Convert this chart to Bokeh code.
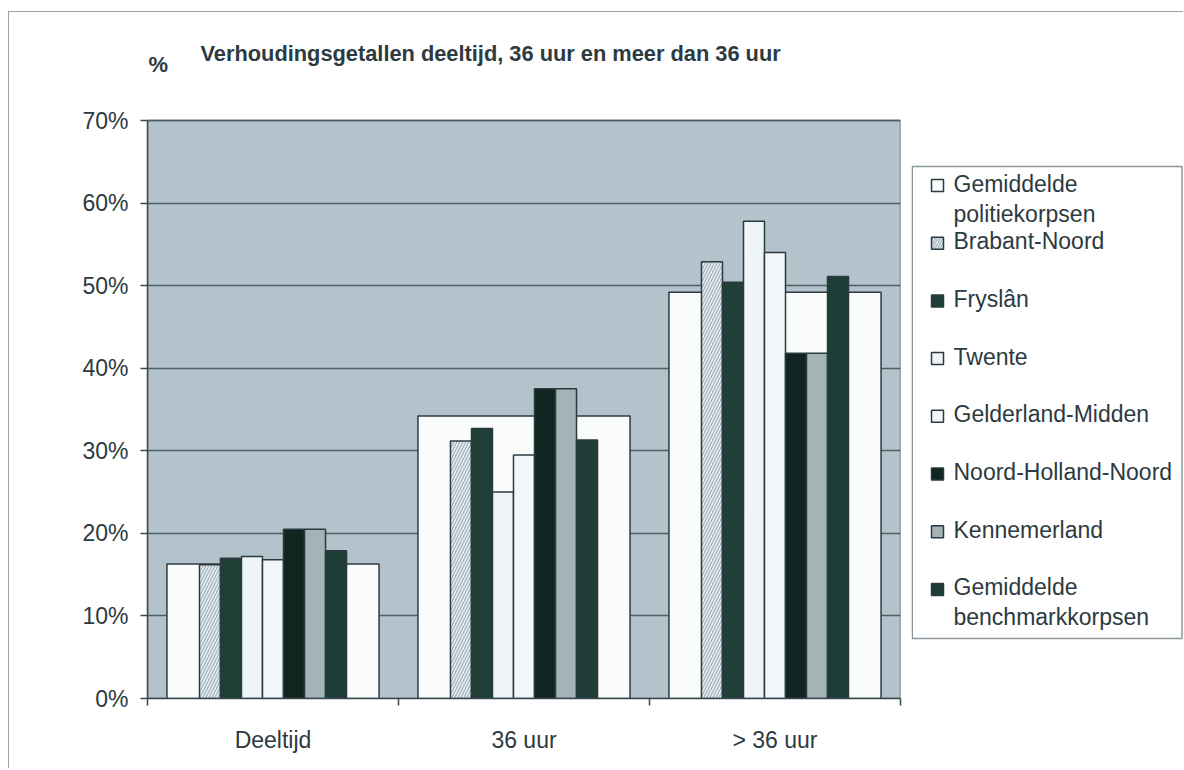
from bokeh.plotting import figure
from bokeh.models import Range1d, FixedTicker, PrintfTickFormatter, Label, ColumnDataSource
from bokeh.layouts import row
from bokeh.embed import file_html
from bokeh.resources import INLINE
from bokeh.core.properties import value

# ---------------- data ----------------
categories = ["Deeltijd", "36 uur", "> 36 uur"]
series_names = ["Gemiddelde politiekorpsen", "Brabant-Noord", "Fryslân", "Twente",
                "Gelderland-Midden", "Noord-Holland-Noord", "Kennemerland",
                "Gemiddelde benchmarkkorpsen"]
gem_politiekorpsen = [16.3, 34.2, 49.2]
brabant_noord = [16.2, 31.2, 52.9]
fryslan = [17.0, 32.7, 50.4]
twente = [17.2, 25.0, 57.8]
gelderland_midden = [16.8, 29.5, 54.0]
noord_holland_noord = [20.5, 37.5, 41.8]
kennemerland = [20.5, 37.5, 41.8]
gem_benchmarkkorpsen = [17.9, 31.3, 51.1]
y_ticks = [0, 10, 20, 30, 40, 50, 60, 70]
y_max = 70
legend_labels = ["Gemiddelde\npolitiekorpsen", "Brabant-Noord", "Fryslân", "Twente",
                 "Gelderland-Midden", "Noord-Holland-Noord", "Kennemerland",
                 "Gemiddelde\nbenchmarkkorpsen"]
title_text = "Verhoudingsgetallen deeltijd, 36 uur en meer dan 36 uur"
unit_text = "%"

# ---------------- styles / layout constants ----------------
narrow_series = [brabant_noord, fryslan, twente, gelderland_midden,
                 noord_holland_noord, kennemerland, gem_benchmarkkorpsen]
fills = ["#fafcfc", "#dfe8ec", "#1f3f37", "#eef4f7", "#f1f6f8", "#0f251f", "#a4b3b6", "#1e3d36"]
hatch = ["", "/", "", "", "", "", "", ""]
edge = "#2b3a40"
hatch_col = "#98aab2"
FONT = "Liberation Sans"
TXT = "#2d3a3f"
FS = "23px"

H = 756
W_MAIN = 902
W_LEG = 272
WIDE = 0.845
NW = 0.0837
MB_BOT = 70
FRAME_H = H - MB_BOT          # frame spans from canvas top to the x axis
PLOT_H = 578                  # height of the grey plot area (0..70 %)

p = figure(width=W_MAIN, height=H, x_range=Range1d(0, 3),
           y_range=Range1d(0, y_max * FRAME_H / PLOT_H),
           output_backend="svg", toolbar_location=None, title=None,
           min_border_left=138, min_border_right=11,
           min_border_top=0, min_border_bottom=MB_BOT)
p.background_fill_color = "white"
p.border_fill_color = "white"
p.outline_line_color = None

xs_center = [i + 0.5 for i in range(len(categories))]

# grey plot area (drawn beneath the grid)
p.quad(left=[0], right=[len(categories)], bottom=[0], top=[y_max], level="image",
       fill_color="#b4c3cb", line_color="#5b696e", line_width=1.5)

# wide background bar (Gemiddelde politiekorpsen)
p.vbar(x=xs_center, top=gem_politiekorpsen, width=WIDE, bottom=0,
       fill_color=fills[0], line_color=edge, line_width=1.5)

for k, vals in enumerate(narrow_series, start=1):
    off = (k - 4) * NW
    kw = {}
    if hatch[k]:
        kw = dict(hatch_pattern=hatch[k], hatch_color=hatch_col, hatch_scale=6, hatch_weight=1.0)
    p.vbar(x=[c + off for c in xs_center], top=vals, width=NW, bottom=0,
           fill_color=fills[k], line_color=edge, line_width=1.5, **kw)

# axes
p.yaxis.ticker = FixedTicker(ticks=y_ticks)
p.yaxis.bounds = (0, y_max)
p.yaxis.formatter = PrintfTickFormatter(format="%d%%")
p.yaxis.major_tick_out = 7
p.yaxis.major_tick_in = 0
p.yaxis.minor_tick_out = 0
p.yaxis.minor_tick_in = 0
p.yaxis.major_label_standoff = 12
p.yaxis.major_label_text_font = FONT
p.yaxis.major_label_text_font_size = FS
p.yaxis.major_label_text_color = TXT
p.yaxis.axis_line_color = "#3b484d"
p.yaxis.axis_line_width = 1.5
p.yaxis.major_tick_line_color = "#3b484d"
p.yaxis.major_tick_line_width = 1.5

p.xaxis.ticker = FixedTicker(ticks=xs_center, minor_ticks=[0, 1, 2, 3])
p.xaxis.major_label_overrides = {c: categories[i] for i, c in enumerate(xs_center)}
p.xaxis.major_tick_out = 0
p.xaxis.major_tick_in = 0
p.xaxis.minor_tick_out = 7
p.xaxis.minor_tick_in = 0
p.xaxis.minor_tick_line_color = "#3b484d"
p.xaxis.minor_tick_line_width = 1.5
p.xaxis.major_label_standoff = 21
p.xaxis.major_label_text_font = FONT
p.xaxis.major_label_text_font_size = FS
p.xaxis.major_label_text_color = TXT
p.xaxis.axis_line_color = "#3b484d"
p.xaxis.axis_line_width = 1.5

p.xgrid.visible = False
p.ygrid.ticker = FixedTicker(ticks=y_ticks)
p.ygrid.grid_line_color = "#4c5d63"
p.ygrid.grid_line_width = 1.5

# chart title and unit (screen units, measured from the frame's bottom-left)
p.add_layout(Label(x=53, y=645, x_units="screen", y_units="screen", text=title_text,
                   text_font=FONT, text_font_style="bold", text_font_size="21.8px",
                   text_color=TXT, text_baseline="middle", text_align="left"))
p.add_layout(Label(x=1, y=634, x_units="screen", y_units="screen", text=unit_text,
                   text_font=FONT, text_font_style="bold", text_font_size="22px",
                   text_color=TXT, text_baseline="middle", text_align="left"))

# ---------------- legend panel ----------------
lg = figure(width=W_LEG, height=H, x_range=Range1d(0, W_LEG), y_range=Range1d(FRAME_H, 0),
            output_backend="svg", toolbar_location=None, title=None,
            x_axis_location=None, y_axis_location=None,
            min_border_left=0, min_border_right=0,
            min_border_top=0, min_border_bottom=MB_BOT)
lg.grid.visible = False
lg.background_fill_color = "white"
lg.border_fill_color = "white"
lg.outline_line_color = None

# legend box
lg.quad(left=[0.75], right=[W_LEG - 1.5], top=[154], bottom=[626],
        fill_color="white", line_color="#8a969b", line_width=1.5)

SLOT = 57.7
FIRST = 171
LINE = 30
sq_y = [FIRST + 2 + i * SLOT for i in range(len(legend_labels))]
for i, lab in enumerate(legend_labels):
    kw = {}
    if hatch[i]:
        kw = dict(hatch_pattern=hatch[i], hatch_color=hatch_col, hatch_scale=5, hatch_weight=1.0)
    lg.rect(x=[26], y=[sq_y[i]], width=12, height=12, fill_color=fills[i],
            line_color=edge, line_width=1.5, **kw)

line_txt, line_y = [], []
for i, lab in enumerate(legend_labels):
    for j, part in enumerate(lab.split("\n")):
        line_txt.append(part)
        line_y.append(FIRST + i * SLOT + j * LINE)
src = ColumnDataSource(dict(x=[42] * len(line_txt), y=line_y, t=line_txt))
lg.text(x="x", y="y", text="t", source=src, text_font=value(FONT), text_font_size=FS,
        text_color=TXT, text_baseline="middle", text_align="left")

layout = row(p, lg, styles={"border-top": "1px solid #9aa3a7",
                            "border-left": "1px solid #9aa3a7",
                            "margin-top": "11px", "margin-left": "8px"})

open("out.html", "w").write(file_html(layout, INLINE))
